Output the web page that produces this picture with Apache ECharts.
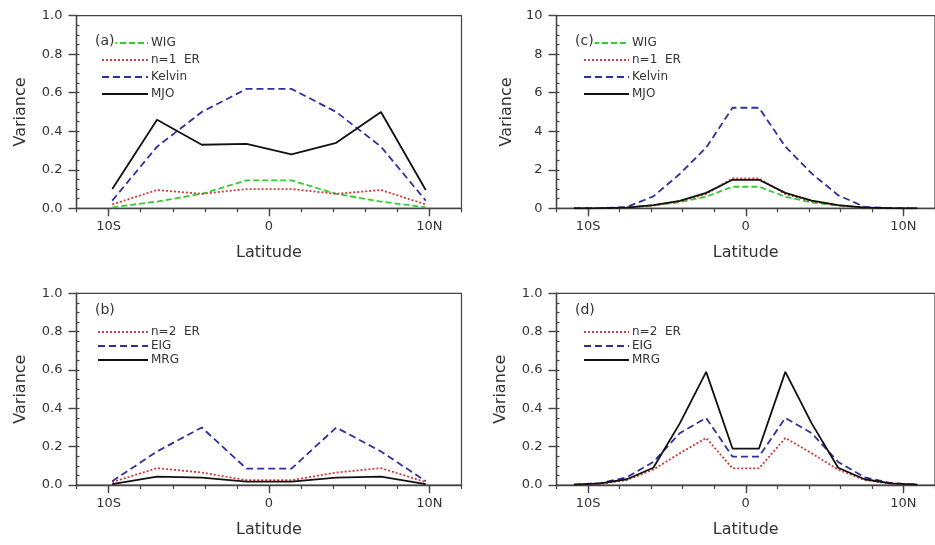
<!DOCTYPE html>
<html>
<head>
<meta charset="utf-8">
<script src="https://cdn.jsdelivr.net/npm/echarts@6/dist/echarts.min.js"></script>
<style>html,body{margin:0;padding:0;background:#fff;}#c{width:935px;height:545px;}</style>
</head>
<body>
<div id="c"></div>
<script>
// ---- data ----
const latAB = [-9.77, -6.98, -4.19, -1.40, 1.40, 4.19, 6.98, 9.77];
const wigA = [0.005, 0.035, 0.075, 0.145, 0.145, 0.075, 0.035, 0.005];
const er1A = [0.02, 0.095, 0.075, 0.10, 0.10, 0.075, 0.095, 0.02];
const kelvinA = [0.04, 0.32, 0.50, 0.62, 0.62, 0.50, 0.32, 0.04];
const mjoA = [0.10, 0.46, 0.33, 0.335, 0.28, 0.34, 0.50, 0.095];

const er2B = [0.015, 0.088, 0.065, 0.025, 0.025, 0.065, 0.088, 0.015];
const eigB = [0.02, 0.175, 0.30, 0.085, 0.085, 0.30, 0.175, 0.02];
const mrgB = [0.005, 0.044, 0.038, 0.018, 0.018, 0.038, 0.044, 0.005];

const latCD = [-10.89, -9.21, -7.54, -5.86, -4.19, -2.51, -0.84, 0.84, 2.51, 4.19, 5.86, 7.54, 9.21, 10.89];
const wigC = [0, 0.005, 0.04, 0.15, 0.32, 0.60, 1.12, 1.12, 0.60, 0.30, 0.14, 0.04, 0.005, 0];
const er1C = [0, 0.005, 0.04, 0.15, 0.36, 0.74, 1.55, 1.55, 0.74, 0.36, 0.15, 0.04, 0.005, 0];
const kelvinC = [0, 0.005, 0.07, 0.62, 1.78, 3.15, 5.22, 5.22, 3.20, 1.80, 0.68, 0.07, 0.005, 0];
const mjoC = [0, 0.005, 0.04, 0.17, 0.38, 0.80, 1.48, 1.48, 0.80, 0.40, 0.17, 0.04, 0.005, 0];

const er2D = [0.001, 0.006, 0.026, 0.08, 0.165, 0.245, 0.087, 0.087, 0.245, 0.165, 0.08, 0.026, 0.006, 0.001];
const eigD = [0.002, 0.01, 0.04, 0.12, 0.27, 0.35, 0.148, 0.148, 0.35, 0.27, 0.12, 0.04, 0.01, 0.002];
const mrgD = [0.002, 0.008, 0.03, 0.09, 0.32, 0.59, 0.19, 0.19, 0.59, 0.32, 0.09, 0.03, 0.008, 0.002];

const xTickValues = [-10, 0, 10];
const xTickLabels = ['10S', '0', '10N'];
const panelLabels = ['(a)', '(b)', '(c)', '(d)'];

// ---- styles ----
const FONT = 'DejaVu Sans';
const TXT = '#333';
const AX = '#444';
const styles = {
  'WIG': { color: '#33cc33', type: [6, 3] },
  'n=1  ER': { color: '#d03a3a', type: [2, 2] },
  'n=2  ER': { color: '#d03a3a', type: [2, 2] },
  'Kelvin': { color: '#2f2f9f', type: [7, 4] },
  'EIG': { color: '#2f2f9f', type: [7, 4] },
  'MJO': { color: '#111111', type: 'solid' },
  'MRG': { color: '#111111', type: 'solid' }
};

const grids = [
  { left: 76.5, top: 15.7, width: 385, height: 192.6 },
  { left: 76.5, top: 293.3, width: 385, height: 191.7 },
  { left: 556.5, top: 15.7, width: 385, height: 192.6 },
  { left: 556.5, top: 293.3, width: 385, height: 191.7 }
];
const yCfg = [
  { max: 1, interval: 0.2, minor: 0.05, dec: 1, gap: 48 },
  { max: 1, interval: 0.2, minor: 0.05, dec: 1, gap: 48 },
  { max: 10, interval: 2, minor: 0.5, dec: 0, gap: 42 },
  { max: 1, interval: 0.2, minor: 0.05, dec: 1, gap: 48 }
];
const panelSeries = [
  [['WIG', latAB, wigA], ['n=1  ER', latAB, er1A], ['Kelvin', latAB, kelvinA], ['MJO', latAB, mjoA]],
  [['n=2  ER', latAB, er2B], ['EIG', latAB, eigB], ['MRG', latAB, mrgB]],
  [['WIG', latCD, wigC], ['n=1  ER', latCD, er1C], ['Kelvin', latCD, kelvinC], ['MJO', latCD, mjoC]],
  [['n=2  ER', latCD, er2D], ['EIG', latCD, eigD], ['MRG', latCD, mrgD]]
];
const legendCfg = [
  { left: 101, top: 37, itemWidth: 46, itemGap: 5 },
  { left: 97, top: 326, itemWidth: 50, itemGap: 2 },
  { left: 583, top: 37, itemWidth: 45, itemGap: 5 },
  { left: 583, top: 326, itemWidth: 45, itemGap: 2 }
];
const labelPos = [
  { left: 94, top: 34 }, { left: 94, top: 303 }, { left: 574, top: 34 }, { left: 574, top: 303 }
];

const xAxis = [], yAxis = [], series = [], legend = [], graphic = [];
grids.forEach((g, i) => {
  g.show = true; g.borderColor = AX; g.borderWidth = 1.2; g.backgroundColor = 'transparent';
  // main x axis
  xAxis.push({
    type: 'value', gridIndex: i, min: -12, max: 12, position: 'bottom',
    name: 'Latitude', nameLocation: 'middle', nameGap: 37,
    nameTextStyle: { fontFamily: FONT, fontSize: 16, color: TXT },
    axisLine: { show: true, onZero: false, lineStyle: { color: AX, width: 1.4 } },
    axisTick: { show: true, length: 8, customValues: xTickValues, lineStyle: { color: AX, width: 1.4 } },
    axisLabel: {
      show: true, margin: 12, customValues: xTickValues, fontFamily: FONT, fontSize: 13, color: TXT,
      formatter: v => xTickLabels[xTickValues.indexOf(Math.round(v))]
    },
    splitLine: { show: false }
  });
  // minor x ticks
  xAxis.push({
    type: 'value', gridIndex: i, min: -12, max: 12, interval: 2, position: 'bottom',
    axisLine: { show: false, onZero: false },
    axisTick: { show: true, length: 4, lineStyle: { color: AX, width: 1.2 } },
    axisLabel: { show: false }, splitLine: { show: false }
  });
  const yc = yCfg[i];
  yAxis.push({
    type: 'value', gridIndex: i, min: 0, max: yc.max, interval: yc.interval, position: 'left',
    name: 'Variance', nameLocation: 'middle', nameGap: yc.gap, nameRotate: 90,
    nameTextStyle: { fontFamily: FONT, fontSize: 16, color: TXT },
    axisLine: { show: true, onZero: false, lineStyle: { color: AX, width: 1.4 } },
    axisTick: { show: true, length: 8, lineStyle: { color: AX, width: 1.4 } },
    axisLabel: { margin: 14, fontFamily: FONT, fontSize: 13, color: TXT, formatter: v => v.toFixed(yc.dec) },
    splitLine: { show: false }
  });
  yAxis.push({
    type: 'value', gridIndex: i, min: 0, max: yc.max, interval: yc.minor, position: 'left',
    axisLine: { show: false, onZero: false },
    axisTick: { show: true, inside: true, length: 3, lineStyle: { color: AX, width: 1.2 } },
    axisLabel: { show: false }, splitLine: { show: false }
  });
  const names = [];
  panelSeries[i].forEach(([name, xs, ys]) => {
    names.push(name);
    const st = styles[name];
    series.push({
      type: 'line', name: name, xAxisIndex: 2 * i, yAxisIndex: 2 * i,
      data: xs.map((x, k) => [x, ys[k]]),
      symbol: 'none', silent: true, animation: false,
      color: st.color,
      lineStyle: { color: st.color, width: 1.8, type: st.type }
    });
  });
  const lc = legendCfg[i];
  legend.push({
    orient: 'vertical', left: lc.left, top: lc.top, itemWidth: lc.itemWidth, itemHeight: 12,
    itemGap: lc.itemGap, selectedMode: false, data: names, padding: 0,
    itemStyle: { opacity: 0, borderWidth: 0 },
    textStyle: { fontFamily: FONT, fontSize: 12, color: TXT, lineHeight: 12, padding: [0, 0, 0, -2] }
  });
  graphic.push({
    type: 'text', left: labelPos[i].left, top: labelPos[i].top, z: 100,
    style: { text: panelLabels[i], fontFamily: FONT, fontSize: 14, fill: TXT, backgroundColor: '#fff', padding: [0, 1, 0, 1] }
  });
});

const chart = echarts.init(document.getElementById('c'), null, { renderer: 'canvas' });
chart.setOption({ animation: false, backgroundColor: '#fff', grid: grids, xAxis, yAxis, series, legend, graphic });
</script>
</body>
</html>
